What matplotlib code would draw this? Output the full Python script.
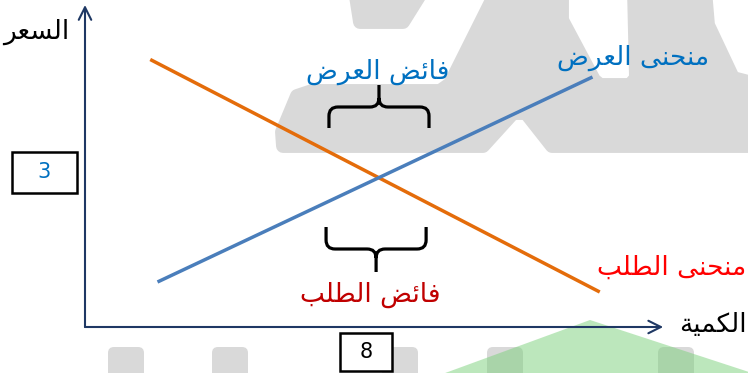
import matplotlib
matplotlib.use("Agg")
import matplotlib.pyplot as plt
from matplotlib.patches import Polygon, Rectangle, FancyBboxPatch
from matplotlib.path import Path
from matplotlib.patches import PathPatch

# ---------------- data ----------------
demand_q = [1.8, 14.2]
demand_p = [5.35, 0.7]
supply_q = [2.0, 14.0]
supply_p = [0.9, 5.0]
eq_quantity_label = "8"
eq_price_label = "3"
label_price = "السعر"
label_quantity = "الكمية"
label_supply = "منحنى العرض"
label_demand = "منحنى الطلب"
label_supply_surplus = "فائض العرض"
label_demand_surplus = "فائض الطلب"

# ---------------- simple Arabic shaping (presentation forms + RTL) ----------------
FORMS = {
    'ا': ('\uFE8D', '\uFE8E', None, None),
    'ب': ('\uFE8F', '\uFE90', '\uFE91', '\uFE92'),
    'ة': ('\uFE93', '\uFE94', None, None),
    'ح': ('\uFEA1', '\uFEA2', '\uFEA3', '\uFEA4'),
    'ر': ('\uFEAD', '\uFEAE', None, None),
    'س': ('\uFEB1', '\uFEB2', '\uFEB3', '\uFEB4'),
    'ض': ('\uFEBD', '\uFEBE', '\uFEBF', '\uFEC0'),
    'ط': ('\uFEC1', '\uFEC2', '\uFEC3', '\uFEC4'),
    'ع': ('\uFEC9', '\uFECA', '\uFECB', '\uFECC'),
    'ف': ('\uFED1', '\uFED2', '\uFED3', '\uFED4'),
    'ك': ('\uFED9', '\uFEDA', '\uFEDB', '\uFEDC'),
    'ل': ('\uFEDD', '\uFEDE', '\uFEDF', '\uFEE0'),
    'م': ('\uFEE1', '\uFEE2', '\uFEE3', '\uFEE4'),
    'ن': ('\uFEE5', '\uFEE6', '\uFEE7', '\uFEE8'),
    'ى': ('\uFEEF', '\uFEF0', None, None),
    'ي': ('\uFEF1', '\uFEF2', '\uFEF3', '\uFEF4'),
    'ئ': ('\uFE89', '\uFE8A', '\uFE8B', '\uFE8C'),
}


def shape(s):
    out = []
    for i, c in enumerate(s):
        if c not in FORMS:
            out.append(c)
            continue
        prev = s[i - 1] if i > 0 else ''
        nxt = s[i + 1] if i + 1 < len(s) else ''
        jp = prev in FORMS and FORMS[prev][2] is not None
        jn = FORMS[c][2] is not None and nxt in FORMS
        iso, fin, ini, med = FORMS[c]
        out.append(med if (jp and jn) else fin if jp else ini if jn else iso)
    return ''.join(reversed(out))


plt.rcParams['font.family'] = ['DejaVu Sans']

W, H = 748, 373
fig = plt.figure(figsize=(W / 100, H / 100), dpi=100)

# ---------------- background watermark (pixel space) ----------------
bg = fig.add_axes([0, 0, 1, 1], zorder=0)
bg.set_xlim(0, W)
bg.set_ylim(H, 0)
bg.axis('off')
gray = '#d9d9d9'


def rpoly(pts, color, lw=10, alpha=1.0, z=1):
    bg.add_patch(Polygon(pts, closed=True, facecolor=color, edgecolor=color,
                         lw=lw, joinstyle='round', alpha=alpha, zorder=z))


rpoly([(355, -10), (423, -10), (403, 22), (360, 22)], gray)
rpoly([(283, 146), (282, 132), (297, 96), (312, 91), (440, 91), (450, 84), (497, -10),
       (562, -10), (562, 20), (594, 80), (600, 85), (630, 85), (636, 78), (634, -10),
       (705, -10), (708, 25), (733, 78), (760, 85), (760, 146),
       (552, 146), (526, 113), (513, 113), (483, 146)], gray)
for x0 in [108, 212, 382, 487, 658]:
    bg.add_patch(FancyBboxPatch((x0 + 4, 351), 28, 40, boxstyle="round,pad=4,rounding_size=6",
                                facecolor=gray, edgecolor='none', zorder=1))
bg.add_patch(Polygon([(437, 376), (590, 320), (752, 373)], closed=True,
                     facecolor=(0.48, 0.82, 0.48), edgecolor='none', alpha=0.5, zorder=2))

# ---------------- main axes in data units ----------------
ax = fig.add_axes([0, 0, 1, 1], zorder=1)
ax.patch.set_alpha(0)
ax.set_xlim(-85 / 36.25, (W - 85) / 36.25)
ax.set_ylim((327 - H) / 50, 327 / 50)
ax.axis('off')

axis_col = '#1f3864'
ax.annotate('', xy=(15.95, 0), xytext=(0, 0),
            arrowprops=dict(arrowstyle='->,head_length=0.9,head_width=0.45', color=axis_col, lw=1.5,
                            shrinkA=0, shrinkB=0))
ax.annotate('', xy=(0, 6.44), xytext=(0, 0),
            arrowprops=dict(arrowstyle='->,head_length=0.9,head_width=0.45', color=axis_col, lw=1.5,
                            shrinkA=0, shrinkB=0))

ax.plot(demand_q, demand_p, color='#e46c0a', lw=2.5, solid_capstyle='butt', zorder=3)
ax.plot(supply_q, supply_p, color='#4a7ebb', lw=2.5, solid_capstyle='butt', zorder=3)


def brace(x0, x1, y_arm, y_bar, y_tip):
    rx = 9 / 36.25
    sgn = 1 if y_bar > y_arm else -1
    ry = 9 / 50
    xm = (x0 + x1) / 2
    verts = [(x0, y_arm), (x0, y_bar - sgn * ry), (x0, y_bar), (x0 + rx, y_bar),
             (xm - rx, y_bar), (xm, y_bar), (xm, y_bar + sgn * ry), (xm, y_tip),
             (xm, y_bar + sgn * ry), (xm, y_bar), (xm + rx, y_bar),
             (x1 - rx, y_bar), (x1, y_bar), (x1, y_bar - sgn * ry), (x1, y_arm)]
    codes = [Path.MOVETO, Path.LINETO, Path.CURVE3, Path.CURVE3,
             Path.LINETO, Path.CURVE3, Path.CURVE3, Path.LINETO,
             Path.MOVETO, Path.CURVE3, Path.CURVE3,
             Path.LINETO, Path.CURVE3, Path.CURVE3, Path.LINETO]
    ax.add_patch(PathPatch(Path(verts, codes), facecolor='none', edgecolor='black',
                           lw=2.3, capstyle='butt', zorder=4))


brace(6.73, 9.49, 3.98, 4.40, 4.84)
brace(6.65, 9.41, 2.00, 1.56, 1.10)

blue_txt = '#0070c0'
fs = 19
ax.text(-1.35, 5.9, shape(label_price), fontsize=fs, color='black', ha='center', va='center')
ax.text(18.25, 0.04, shape(label_quantity), fontsize=fs, color='black', ha='right', va='center')
ax.text(8.08, 5.1, shape(label_supply_surplus), fontsize=fs, color=blue_txt, ha='center', va='center')
ax.text(15.12, 5.38, shape(label_supply), fontsize=fs, color=blue_txt, ha='center', va='center')
ax.text(7.86, 0.64, shape(label_demand_surplus), fontsize=fs, color='#c00000', ha='center', va='center')
ax.text(18.25, 1.18, shape(label_demand), fontsize=fs, color='#ff0000', ha='right', va='center')

# equilibrium value boxes
ax.add_patch(Rectangle((-2.014, 2.68), 1.793, 0.82, facecolor='white', edgecolor='black', lw=1.8, zorder=5))
ax.text(-1.12, 3.09, eq_price_label, fontsize=15, color=blue_txt, ha='center', va='center', zorder=6)
ax.add_patch(Rectangle((7.03, -0.88), 1.43, 0.76, facecolor='white', edgecolor='black', lw=1.8, zorder=5))
ax.text(7.75, -0.5, eq_quantity_label, fontsize=15, color='black', ha='center', va='center', zorder=6)

fig.savefig('out.png', dpi=100)
